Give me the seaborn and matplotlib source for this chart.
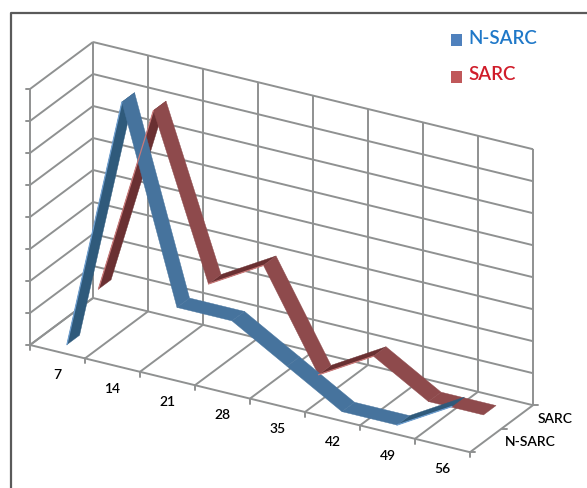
# Excel style 3D ribbon line chart, N-SARC vs SARC per week
import matplotlib.pyplot as plt
import pandas as pd
import seaborn as sns

weeks = ['7', '14', '21', '28', '35', '42', '49', '56']
series_names = ['N-SARC', 'SARC']
n_sarc = [0, 8, 2, 2, 1, 0, 0, 1]
sarc = [1, 7, 2, 3, 0, 1, 0, 0]
z_levels = list(range(9))

sns.set_theme(style='white')
plt.rcParams['font.family'] = ['Lato', 'DejaVu Sans']

GRID = '#8f9191'
TOP_FACE = {'N-SARC': '#46739d', 'SARC': '#8e4a4c'}
UNDER_FACE = {'N-SARC': '#2f5a7b', 'SARC': '#6a3032'}
EDGE = {'N-SARC': '#6f9fd0', 'SARC': '#c97a7a'}
DEPTH = {'N-SARC': (0.15, 0.35), 'SARC': (0.65, 0.85)}


# category / depth / value to picture pixels (oblique projection)
def project(c, d, z):
    return 30 + 55 * c + 63 * d, 345 + 13.4 * c - 47 * d - 32 * z


def line3d(ax, start, end, color=GRID, width=1.4, z=1):
    x0, y0 = project(*start)
    x1, y1 = project(*end)
    ax.plot([x0, x1], [y0, y1], color=color, lw=width, zorder=z, solid_capstyle='butt')


fig = plt.figure(figsize=(5.87, 4.88), dpi=100)
ax = fig.add_axes([0, 0, 1, 1])

# walls and floor
n = len(weeks)
top = z_levels[-1]
for z in z_levels:
    line3d(ax, (0, 1, z), (n, 1, z))
    line3d(ax, (0, 0, z), (0, 1, z))
    x, y = project(0, 0, z)
    ax.plot([x - 4, x], [y, y], color=GRID, lw=1.4)
for c in range(n + 1):
    line3d(ax, (c, 1, 0), (c, 1, top))
    line3d(ax, (c, 0, 0), (c, 1, 0))
    x, y = project(c, 0, 0)
    ax.plot([x, x], [y, y + 5], color=GRID, lw=1.4)
line3d(ax, (0, 0, 0), (0, 0, top))
line3d(ax, (0, 0, 0), (n, 0, 0))
for d in [0, 0.5, 1]:
    x, y = project(n, d, 0)
    ax.plot([x, x + 5], [y, y], color=GRID, lw=1.4)

# ribbons, back series first
for name, values in [('SARC', sarc), ('N-SARC', n_sarc)]:
    d0, d1 = DEPTH[name]
    segments = list(zip(range(n - 1), values[:-1], values[1:]))
    # underside first so the falling faces lie on top at the peaks
    for i, a, b in sorted(segments, key=lambda s: s[2] <= s[1]):
        rising = b > a
        corners = [project(i + 0.5, d0, a), project(i + 1.5, d0, b),
                   project(i + 1.5, d1, b), project(i + 0.5, d1, a)]
        face = UNDER_FACE[name] if rising else TOP_FACE[name]
        ax.fill([p[0] for p in corners], [p[1] for p in corners], color=face, lw=0.3, zorder=3)
        if rising:
            edge = pd.DataFrame({'x': [corners[0][0], corners[1][0]], 'y': [corners[0][1], corners[1][1]]})
            sns.lineplot(data=edge, x='x', y='y', sort=False, estimator=None, ax=ax,
                         color=EDGE[name], lw=0.9, zorder=4, legend=False)

# category labels sit under the middle of each slot
for i, week in enumerate(weeks):
    x, y = project(i + 0.5, 0, 0)
    ax.text(x, y + 23.5, week, ha='center', va='center', fontsize=10, color='black', fontweight='semibold')

# series labels on the depth axis
ax.text(555, 419, series_names[1], ha='center', va='center', fontsize=10, color='black', fontweight='semibold')
ax.text(530, 442, series_names[0], ha='center', va='center', fontsize=10, color='black', fontweight='semibold')

# legend in the top right of the chart area
for name, y, col, sq in [('N-SARC', 40, '#1f78c8', '#4f81bd'), ('SARC', 77, '#d01c2a', '#c0585a')]:
    ax.fill([451, 462, 462, 451], [y - 6, y - 6, y + 6, y + 6], color=sq, lw=0, zorder=5)
    ax.text(468, y - 2, name, ha='left', va='center', fontsize=13.5, color=col, fontweight='semibold')

# chart frame, cut off by the picture on the right and bottom
ax.plot([10.5, 10.5, 587], [488, 13, 13], color='#5a5a5a', lw=1.6)

ax.set_xlim(0, 587)
ax.set_ylim(488, 0)
ax.axis('off')

fig.savefig('out.png', dpi=100)
